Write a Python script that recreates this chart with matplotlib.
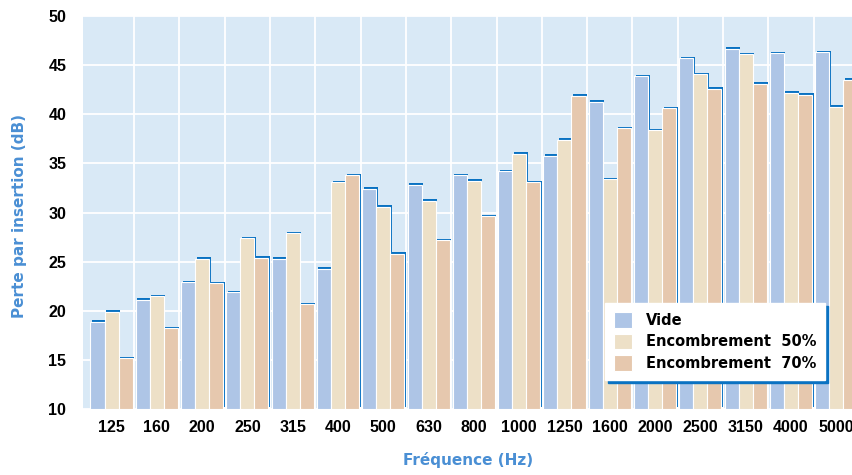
import numpy as np
import matplotlib
matplotlib.use("Agg")
import matplotlib.pyplot as plt
import matplotlib.patheffects as pe

# ------------------------------
# Data
# ------------------------------
frequencies = ["125", "160", "200", "250", "315", "400", "500", "630", "800",
               "1000", "1250", "1600", "2000", "2500", "3150", "4000", "5000"]
vide = [18.9, 21.1, 22.9, 21.9, 25.3, 24.3, 32.45, 32.85, 33.8,
        34.2, 35.8, 41.3, 43.9, 45.7, 46.7, 46.2, 46.3]
encombrement_50 = [19.9, 21.5, 25.3, 27.4, 27.9, 33.1, 30.6, 31.2, 33.25,
                   36.0, 37.4, 33.4, 38.4, 44.1, 46.1, 42.2, 40.75]
encombrement_70 = [15.15, 18.2, 22.8, 25.4, 20.65, 33.8, 25.8, 27.2, 29.6,
                   33.1, 41.9, 38.6, 40.6, 42.6, 43.1, 42.0, 43.5]
series_names = ["Vide", "Encombrement  50%", "Encombrement  70%"]

colors = ["#aec5e6", "#ede0c7", "#e6c8ae"]
shadow_blue = "#0a72c2"
label_blue = "#4a8fd4"
bg = "#d9e9f6"

# ------------------------------
# Figure
# ------------------------------
fig = plt.figure(figsize=(8.53, 4.75), dpi=100)
ax = fig.add_axes([0.0973, 0.139, 0.9027, 0.827])
ax.set_facecolor(bg)

x = np.arange(len(frequencies))
w = 0.31
shadow = [pe.SimplePatchShadow(offset=(1.1, 1.1), shadow_rgbFace=shadow_blue, alpha=1.0),
          pe.Normal()]

for k, (vals, name) in enumerate(zip([vide, encombrement_50, encombrement_70], series_names)):
    heights = np.array(vals) - 10
    bars = ax.bar(x + (k - 1) * w, heights, w, bottom=10, color=colors[k],
                  edgecolor="white", linewidth=0.8, label=name, zorder=3)
    for b in bars:
        b.set_path_effects(shadow)

ax.set_ylim(10, 50)
ax.set_xlim(-0.63, 16.37)
ax.set_yticks(np.arange(10, 51, 5))
ax.set_xticks(x)
ax.set_xticks(x[:-1] + 0.5, minor=True)
ax.set_xticklabels(frequencies)

tick_font = dict(family="Liberation Sans", weight="bold", size=11.5)
for lab in ax.get_xticklabels() + ax.get_yticklabels():
    lab.set(**tick_font)

ax.tick_params(axis="both", which="both", length=0)
ax.tick_params(axis="x", pad=8)
ax.tick_params(axis="y", pad=12)
ax.grid(axis="y", which="major", color="white", linewidth=1.3, zorder=1)
ax.grid(axis="x", which="minor", color="white", linewidth=1.3, zorder=1)
ax.set_axisbelow(True)
for s in ax.spines.values():
    s.set_visible(False)

ax.set_xlabel("Fréquence (Hz)", color=label_blue, fontweight="bold", fontsize=11, labelpad=12)
ax.set_ylabel("Perte par insertion (dB)", color=label_blue, fontweight="bold", fontsize=11)
ax.yaxis.set_label_coords(-0.073, 0.49)

leg = ax.legend(loc="upper left", bbox_to_anchor=(0.709, 0.362), bbox_transform=fig.transFigure,
                borderaxespad=0, fancybox=False, framealpha=1, edgecolor="white",
                shadow={"color": shadow_blue, "alpha": 1.0},
                prop=dict(weight="bold", size=10.5), handlelength=1.3, handleheight=1.3,
                labelspacing=0.4, borderpad=0.6, handletextpad=0.9)
for h in leg.legend_handles:
    h.set_path_effects([])
    h.set_edgecolor("white")
leg.set_zorder(5)

fig.savefig("out.png", dpi=100)
